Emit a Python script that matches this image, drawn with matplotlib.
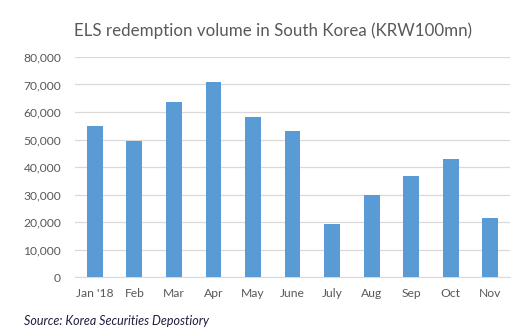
import matplotlib
matplotlib.use("Agg")
import matplotlib.pyplot as plt
import numpy as np

categories = ["Jan '18", "Feb", "Mar", "Apr", "May", "June", "July", "Aug", "Sep", "Oct", "Nov"]
values = [54900, 49500, 63700, 71000, 58200, 53100, 19300, 29800, 36700, 43000, 21400]
yticks = [0, 10000, 20000, 30000, 40000, 50000, 60000, 70000, 80000]

plt.rcParams['font.family'] = ['Lato', 'DejaVu Sans']

fig = plt.figure(figsize=(5.19, 3.36), dpi=100)
ax = fig.add_axes([75/519, 1 - 277/336, (510-75)/519, (277-57)/336])

x = np.arange(len(categories))
ax.bar(x, values, width=0.4, color='#5B9BD5', zorder=3)
ax.set_xlim(-0.5, len(categories) - 0.5)
ax.set_ylim(0, 80000)
ax.set_yticks(yticks)
ax.set_yticklabels([f"{v:,}" for v in yticks])
ax.set_xticks(x)
ax.set_xticklabels(categories)
ax.grid(axis='y', color='#D9D9D9', linewidth=0.9, zorder=0)
for s in ['top', 'right', 'left']:
    ax.spines[s].set_visible(False)
ax.spines['bottom'].set_color('#D9D9D9')
ax.tick_params(axis='both', length=0, labelsize=8.7, colors='#595959')
ax.tick_params(axis='y', pad=10)
ax.tick_params(axis='x', pad=8)

fig.text(273/519, 1 - 31/336, "ELS redemption volume in South Korea (KRW100mn)",
         ha='center', va='center', fontsize=12.2, color='#595959')
fig.text(24/519, 1 - 321/336, "Source: Korea Securities Depostiory",
         ha='left', va='center', fontsize=9, style='italic', color='#1F1F3F')

fig.savefig("out.png", dpi=100)
